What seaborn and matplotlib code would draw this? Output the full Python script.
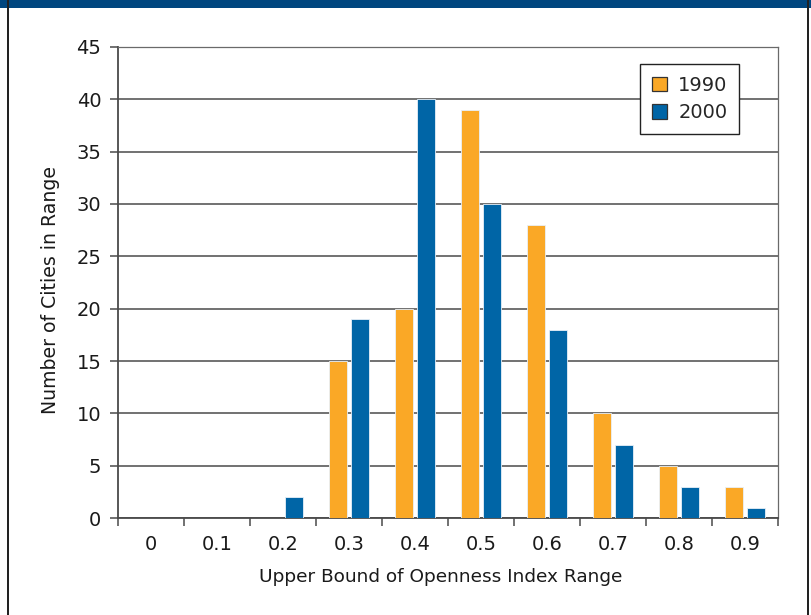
#!/usr/bin/env python3
"""Openness index histogram: number of cities per range, 1990 vs 2000."""

import numpy as np
import pandas as pd
import matplotlib
matplotlib.use("Agg")
import matplotlib.pyplot as plt
from matplotlib.patches import Rectangle
from matplotlib.ticker import FixedLocator
import seaborn as sns

# ─────────────────────────────────────────────
# Data
# ─────────────────────────────────────────────
BOUNDS     = ["0", "0.1", "0.2", "0.3", "0.4", "0.5", "0.6", "0.7", "0.8", "0.9"]
YEARS      = ["1990", "2000"]
CITIES_1990 = [0, 0, 0, 15, 20, 39, 28, 10, 5, 3]
CITIES_2000 = [0, 0, 2, 19, 40, 30, 18, 7, 3, 1]
Y_TICKS    = [0, 5, 10, 15, 20, 25, 30, 35, 40, 45]

ORANGE = "#FAA826"
BLUE   = "#0065A6"
NAVY   = "#00467F"
GRID   = "#4a4a4a"
TEXT   = "#1a1a1a"

df = pd.DataFrame({
    "bound": BOUNDS * 2,
    "year":  [YEARS[0]] * len(BOUNDS) + [YEARS[1]] * len(BOUNDS),
    "count": CITIES_1990 + CITIES_2000,
})

# ─────────────────────────────────────────────
# Plot
# ─────────────────────────────────────────────
sns.set_style("white")
plt.rcParams["font.family"] = ["DejaVu Sans"]

fig = plt.figure(figsize=(8.12, 6.15), dpi=100)
ax = fig.add_axes([0.1453, 0.1577, 0.8128, 0.7659])

sns.barplot(data=df, x="bound", y="count", hue="year", order=BOUNDS,
            hue_order=YEARS, palette=[ORANGE, BLUE], saturation=1,
            width=0.66, gap=0.2, edgecolor="#e8f0f8", linewidth=0.6,
            legend=False, ax=ax, zorder=3)

ax.set_ylim(0, 45)
ax.set_xlim(-0.5, len(BOUNDS) - 0.5)
ax.set_yticks(Y_TICKS)
ax.yaxis.grid(True, color=GRID, linewidth=1.1, zorder=0)
ax.set_axisbelow(True)

# ticks on bin boundaries, labels centred
ax.xaxis.set_minor_locator(FixedLocator(np.arange(-0.5, len(BOUNDS), 1.0)))
ax.tick_params(axis="x", which="major", length=0, labelsize=14, pad=12,
               labelcolor=TEXT)
ax.tick_params(axis="x", which="minor", length=6, width=1.1, color=GRID,
               direction="out", bottom=True)
ax.tick_params(axis="y", length=6, width=1.1, color=GRID, labelsize=14,
               labelcolor=TEXT, pad=6, left=True)

for side in ["left", "bottom"]:
    ax.spines[side].set_color(GRID)
    ax.spines[side].set_linewidth(1.3)
for side in ["top", "right"]:
    ax.spines[side].set_color("#6a6a6a")
    ax.spines[side].set_linewidth(0.9)

ax.set_xlabel("Upper Bound of Openness Index Range", fontsize=13.3,
              color=TEXT)
ax.set_ylabel("Number of Cities in Range", fontsize=13.6, color=TEXT)
ax.xaxis.set_label_coords(0.489, -0.106)
ax.yaxis.set_label_coords(-0.088, 0.485)

handles = [Rectangle((0, 0), 1, 1, facecolor=c, edgecolor="#333333",
                     linewidth=0.9) for c in (ORANGE, BLUE)]
leg = ax.legend(handles, YEARS, loc="upper right",
                bbox_to_anchor=(0.9415, 0.963), fontsize=14, frameon=True,
                fancybox=False, framealpha=1, edgecolor="#222222",
                handlelength=0.75, handleheight=0.75, handletextpad=0.6,
                borderpad=0.6, labelspacing=0.42, borderaxespad=0)
leg.get_frame().set_linewidth(1.0)
leg.set_zorder(5)

# frame around the figure: navy band on top, dark rules at the sides
fig.patches.append(Rectangle((0, 1 - 8 / 615), 1, 8 / 615,
                             transform=fig.transFigure, facecolor=NAVY,
                             edgecolor="none", zorder=10))
for x0 in (7 / 812, 807 / 812):
    fig.patches.append(Rectangle((x0, 0), 2.5 / 812, 1,
                                 transform=fig.transFigure,
                                 facecolor="#222222", edgecolor="none",
                                 zorder=10))

fig.savefig("out.png", dpi=100)
